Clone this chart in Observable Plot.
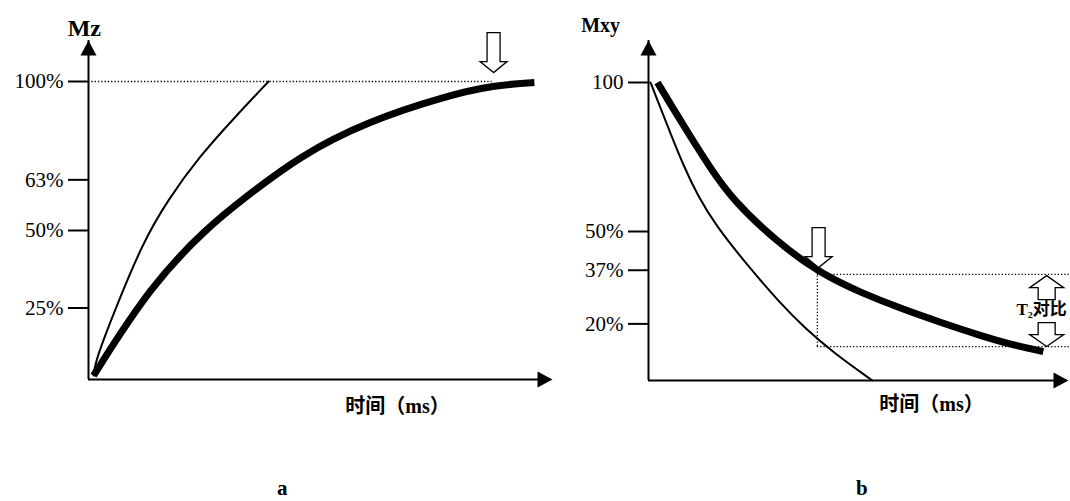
<!DOCTYPE html>
<html><head><meta charset="utf-8">
<script src="https://cdn.jsdelivr.net/npm/d3@7"></script>
<script src="https://cdn.jsdelivr.net/npm/@observablehq/plot@0.6"></script>
<style>
body{margin:0;background:#fff;width:1070px;height:501px;overflow:hidden;position:relative;font-family:"Liberation Serif","Noto Sans CJK SC",serif;}
#a{position:absolute;left:0;top:0}
#b{position:absolute;left:560px;top:0}
.cap{position:absolute;font-weight:bold;font-size:21px;top:478px;line-height:21px}
</style></head><body>
<div id="a"></div><div id="b"></div>
<div class="cap" style="left:277px">a</div>
<div class="cap" style="left:856px">b</div>
<script>
// ---------- Panel a: longitudinal recovery (Mz) ----------
const aFastTime = [1.08, 1.51, 5.82, 11.6, 17.0, 24.1, 31.3, 38.8];
const aFastMz   = [1.34, 6.38, 23.8, 45.6, 60.1, 75.2, 87.6, 100];
const aSlowTime = [1.08, 13.4, 25.6, 33.4, 45.7, 60.1, 77.4, 87.3, 96.1];
const aSlowMz   = [1.34, 31.5, 51.0, 60.7, 75.2, 86.6, 95.3, 98.7, 99.7];
const aTickPos    = [24, 50, 67, 100];
const aTickLabels = ["25%", "50%", "63%", "100%"];

// ---------- Panel b: transverse decay (Mxy) ----------
const bFastTime = [0.48, 2.14, 5.24, 8.33, 11.7, 16.0, 23.6, 31.4, 37.4, 44.0, 53.3];
const bFastMxy  = [100, 94.0, 82.9, 72.1, 62.1, 52.0, 38.6, 25.8, 17.4, 9.4, 0];
const bSlowTime = [2.14, 5.71, 9.52, 14.8, 20.2, 30.2, 40.5, 50.5, 60.0, 69.5, 79.0, 86.2, 94.0];
const bSlowMxy  = [100, 91.6, 82.9, 71.1, 60.4, 47.0, 36.2, 29.5, 24.2, 19.5, 15.1, 12.1, 9.7];
const bTickPos    = [19, 37, 50, 100];
const bTickLabels = ["20%", "37%", "50%", "100"];
const bContrastHigh = 35.6, bContrastLow = 11.4, bContrastTime = 40.2;

const toRows = (xs, ys) => xs.map((x, i) => ({x, y: ys[i]}));

// symbols
const triangle = {draw(c){ c.moveTo(0,0); c.lineTo(-8,15); c.lineTo(8,15); c.closePath(); }};
function hollow(shaftHalf, headHalf, headLen, total){
  return {draw(c){
    c.moveTo(0,0); c.lineTo(-headHalf,-headLen); c.lineTo(-shaftHalf,-headLen);
    c.lineTo(-shaftHalf,-total); c.lineTo(shaftHalf,-total); c.lineTo(shaftHalf,-headLen);
    c.lineTo(headHalf,-headLen); c.closePath();
  }};
}
const bigArrow = hollow(6.5, 13.5, 11, 40);
const smallArrow = hollow(8.5, 17, 12, 24);

const font = {fontFamily: "'Liberation Serif','Noto Sans CJK SC',serif", fontSize: "21px", color: "black", background: "white", overflow: "visible"};
const boldFont = "'Liberation Serif','Noto Sans CJK SC',serif";

function axes(yTip, ticks, labels){
  const lab = new Map(ticks.map((t, i) => [t, labels[i]]));
  return [
    Plot.ruleX([0], {y1: 0, y2: yTip, stroke: "black", strokeWidth: 2}),
    Plot.ruleY([0], {x1: 0, x2: 99, stroke: "black", strokeWidth: 2}),
    Plot.dot([{x: 0, y: yTip}], {x: "x", y: "y", symbol: triangle, fill: "black", stroke: null}),
    Plot.dot([{x: 100, y: 0}], {x: "x", y: "y", symbol: triangle, fill: "black", stroke: null, rotate: 90}),
    Plot.axisY(ticks, {tickSize: 20, tickPadding: 5, strokeWidth: 2, tickFormat: d => lab.get(d), label: null, fontSize: 21})
  ];
}

const plotA = Plot.plot({
  width: 560, height: 430,
  marginLeft: 88, marginRight: 8, marginTop: 81, marginBottom: 51,
  x: {domain: [0, 100], axis: null},
  y: {domain: [0, 100], axis: null},
  style: font,
  marks: [
    Plot.ruleY([100], {x1: 0, x2: 87, stroke: "black", strokeWidth: 1.3, strokeDasharray: "1.3,2"}),
    Plot.line(toRows(aFastTime, aFastMz), {x: "x", y: "y", curve: "basis", stroke: "black", strokeWidth: 2}),
    Plot.line(toRows(aSlowTime, aSlowMz), {x: "x", y: "y", curve: "basis", stroke: "black", strokeWidth: 7, strokeLinecap: "butt"}),
    ...axes(113.8, aTickPos, aTickLabels),
    Plot.dot([{x: 87.3, y: 103}], {x: "x", y: "y", symbol: bigArrow, fill: "white", stroke: "black", strokeWidth: 1.3}),
    Plot.text(["Mz"], {x: -0.9, y: 118, text: d => d, fontWeight: "bold", fontSize: 24, fontFamily: boldFont}),
    Plot.text(["时间（ms）"], {x: 66.6, y: -9.1, text: d => d, fontWeight: "bold", fontSize: 20, fontFamily: boldFont})
  ]
});
document.getElementById("a").append(plotA);

const plotB = Plot.plot({
  width: 510, height: 430,
  marginLeft: 88, marginRight: 2, marginTop: 82, marginBottom: 50,
  x: {domain: [0, 100], axis: null},
  y: {domain: [0, 100], axis: null},
  style: font,
  marks: [
    Plot.ruleY([bContrastHigh, bContrastLow], {x1: bContrastTime, x2: 101, stroke: "black", strokeWidth: 1.3, strokeDasharray: "1.3,2"}),
    Plot.ruleX([bContrastTime], {y1: bContrastLow, y2: bContrastHigh, stroke: "black", strokeWidth: 1.3, strokeDasharray: "1.3,2"}),
    Plot.line(toRows(bFastTime, bFastMxy), {x: "x", y: "y", curve: "basis", stroke: "black", strokeWidth: 2}),
    Plot.line(toRows(bSlowTime, bSlowMxy), {x: "x", y: "y", curve: "basis", stroke: "black", strokeWidth: 7, strokeLinecap: "butt"}),
    ...axes(114.1, bTickPos, bTickLabels),
    Plot.dot([{x: 40.5, y: 37.9}], {x: "x", y: "y", symbol: bigArrow, fill: "white", stroke: "black", strokeWidth: 1.3}),
    Plot.dot([{x: 94.8, y: 35.2}], {x: "x", y: "y", symbol: smallArrow, rotate: 180, fill: "white", stroke: "black", strokeWidth: 1.3}),
    Plot.dot([{x: 94.8, y: bContrastLow}], {x: "x", y: "y", symbol: smallArrow, fill: "white", stroke: "black", strokeWidth: 1.3}),
    Plot.text(["T₂对比"], {x: 87.6, y: 23.8, text: d => d, textAnchor: "start", fontWeight: "bold", fontSize: 17, fontFamily: boldFont}),
    Plot.text(["Mxy"], {x: -11.4, y: 119, text: d => d, fontWeight: "bold", fontSize: 20, fontFamily: boldFont}),
    Plot.text(["时间（ms）"], {x: 67.4, y: -8, text: d => d, fontWeight: "bold", fontSize: 20, fontFamily: boldFont})
  ]
});
document.getElementById("b").append(plotB);
</script>
</body></html>
